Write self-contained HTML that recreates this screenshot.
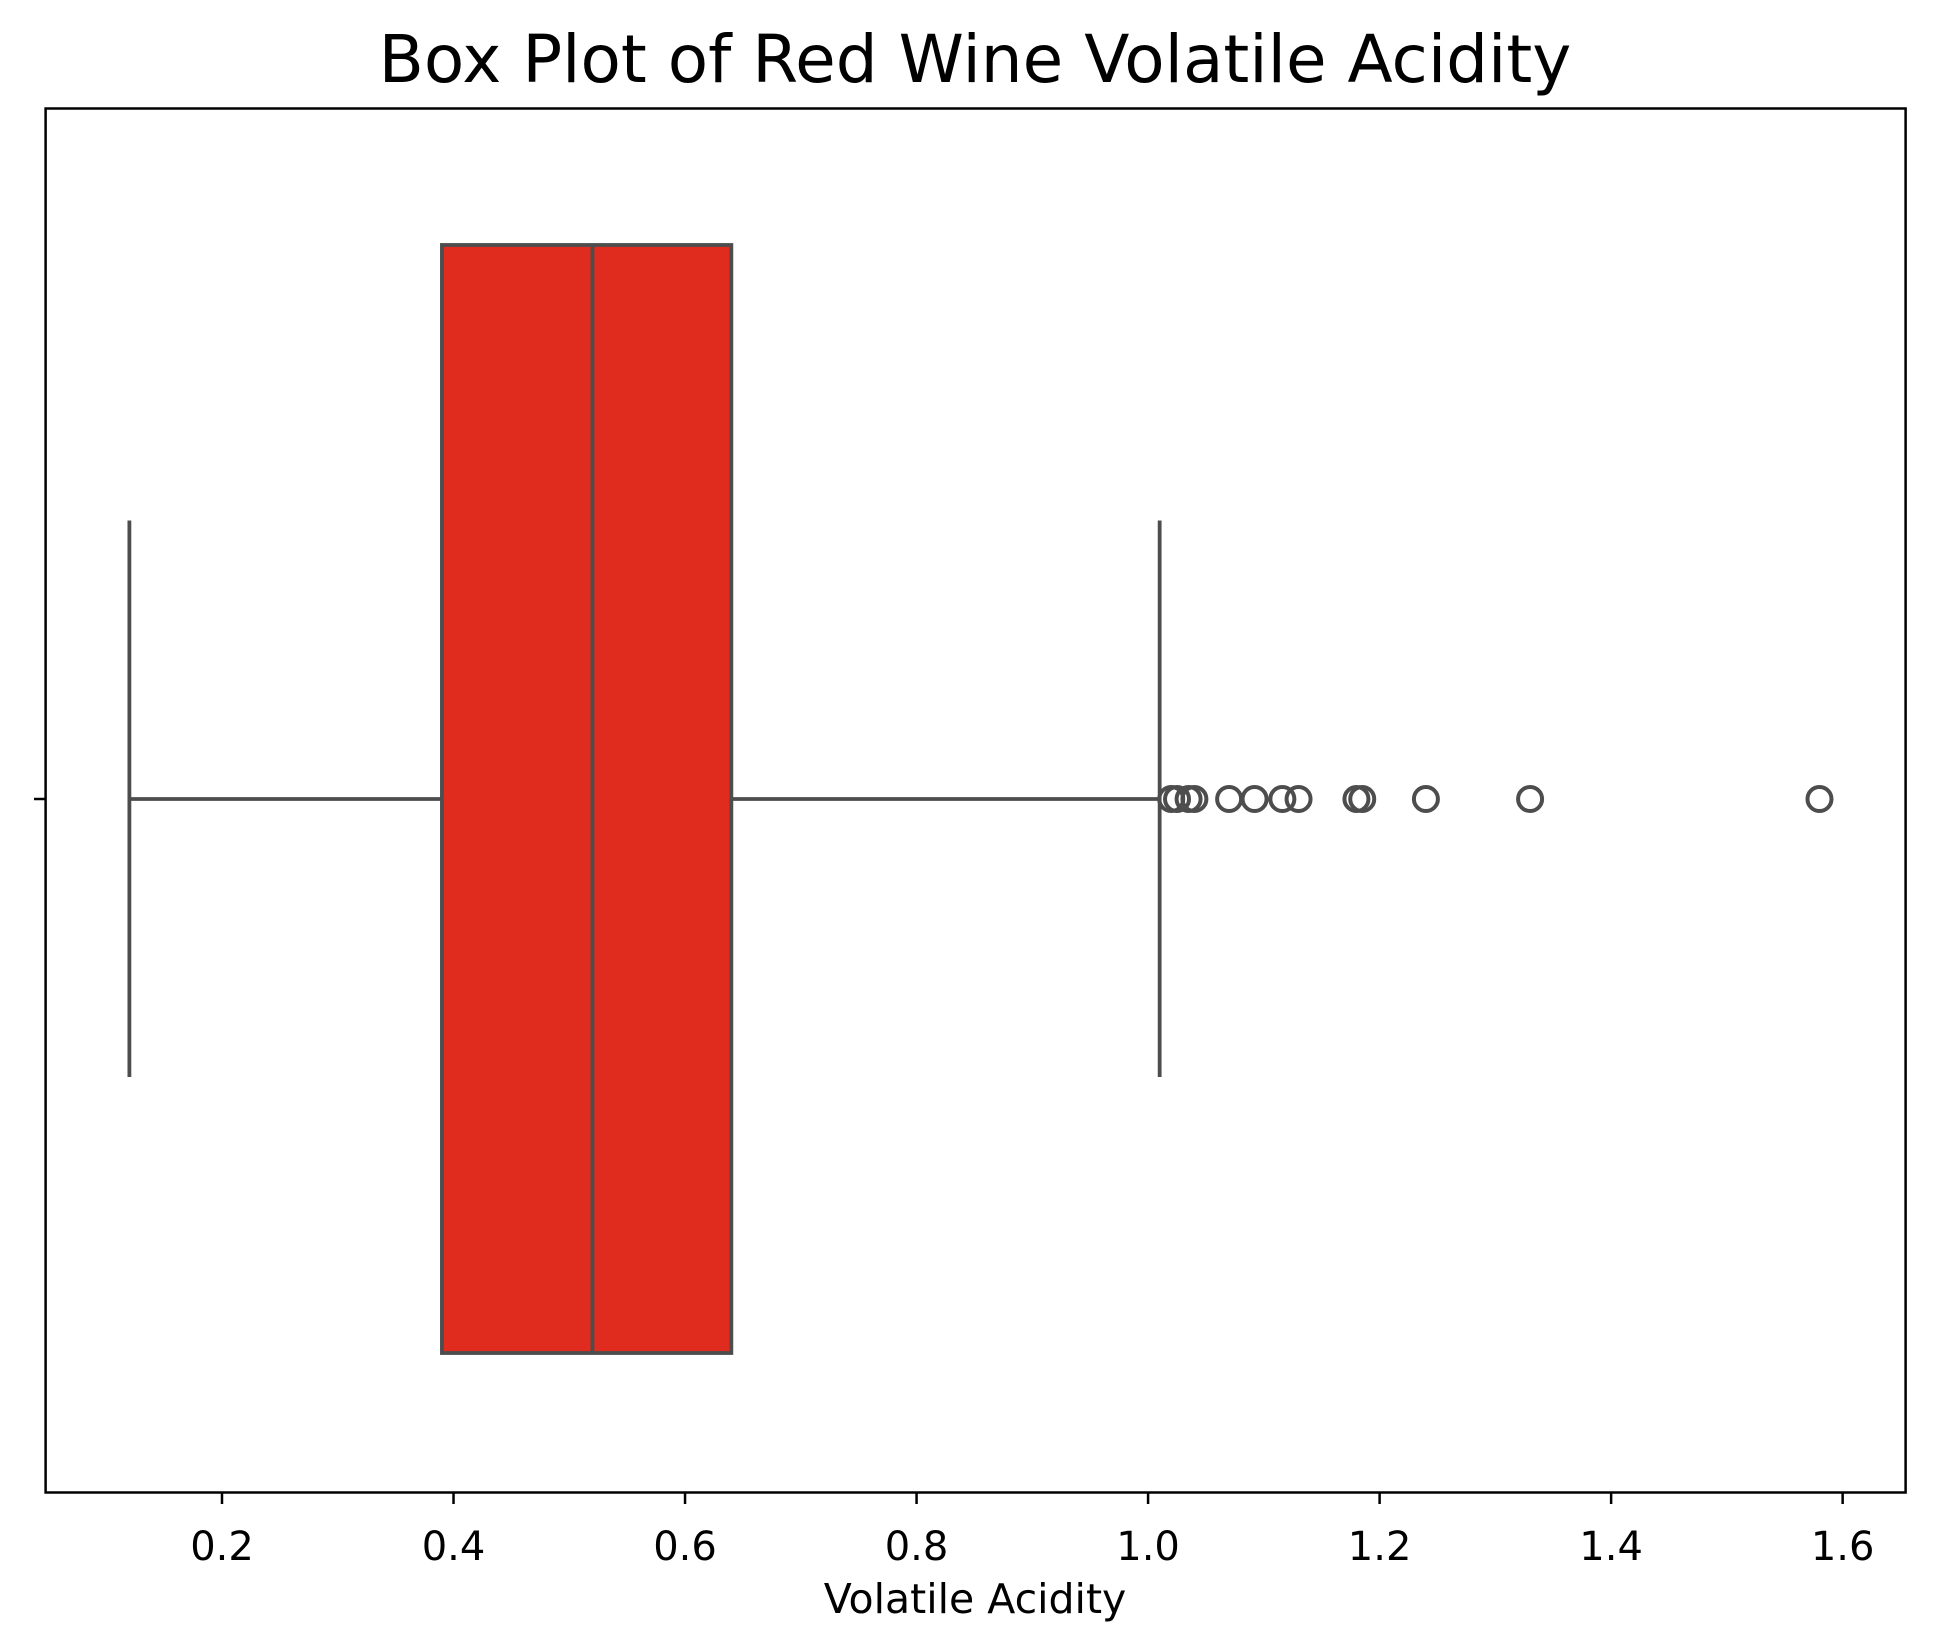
<!DOCTYPE html>
<html><head><meta charset="utf-8"><style>body{margin:0;background:#fff}svg{display:block;font-family:"DejaVu Sans","Liberation Sans",sans-serif}</style></head>
<body>
<svg id="chart" width="1934" height="1652" viewBox="0 0 1934 1652" xmlns="http://www.w3.org/2000/svg">
<text x="975" y="82" font-size="66" text-anchor="middle">Box Plot of Red Wine Volatile Acidity</text>
<rect x="45.6" y="108.5" width="1860" height="1384" fill="none" stroke="#000" stroke-width="2.5"/>
<g id="ticks"></g>
<g id="marks"></g>
<line x1="34" x2="45.6" y1="799" y2="799" stroke="#000" stroke-width="2.5"/>
<text x="975" y="1613" font-size="41" text-anchor="middle">Volatile Acidity</text>
</svg>
<script>
const xTicks = [0.2, 0.4, 0.6, 0.8, 1.0, 1.2, 1.4, 1.6];
const xTickLabels = ["0.2","0.4","0.6","0.8","1.0","1.2","1.4","1.6"];
const whiskerLow = 0.12;
const q1 = 0.39;
const median = 0.52;
const q3 = 0.64;
const whiskerHigh = 1.01;
const outliers = [1.02, 1.025, 1.035, 1.04, 1.07, 1.092, 1.116, 1.13, 1.18, 1.185, 1.24, 1.33, 1.58];

const NS = "http://www.w3.org/2000/svg";
function xs(v){ return 222 + (v - 0.2) * 1157.6; }
function mk(tag, attrs, parent){ const e = document.createElementNS(NS, tag); for (const k in attrs) e.setAttribute(k, attrs[k]); parent.appendChild(e); return e; }
const tg = document.getElementById('ticks');
xTicks.forEach((t,i)=>{
  const l = mk('line',{x1:xs(t),x2:xs(t),y1:1492.4,y2:1504,stroke:'#000','stroke-width':2.5},tg);
  
  
  const tx = mk('text',{x:xs(t),y:1560,'font-size':40,'text-anchor':'middle'},tg);
  tx.textContent = xTickLabels[i];
  
  
});
const g = document.getElementById('marks');
const cy = 799, boxTop = 245, boxBot = 1353, capT = 520.5, capB = 1077, col = '#4d4d4d', sw = 3.8;
let e;
e = mk('line',{x1:xs(whiskerLow),x2:xs(q1),y1:cy,y2:cy,stroke:col,'stroke-width':sw},g);


e = mk('line',{x1:xs(q3),x2:xs(whiskerHigh),y1:cy,y2:cy,stroke:col,'stroke-width':sw},g);


e = mk('line',{x1:xs(whiskerLow),x2:xs(whiskerLow),y1:capT,y2:capB,stroke:col,'stroke-width':sw},g);


e = mk('line',{x1:xs(whiskerHigh),x2:xs(whiskerHigh),y1:capT,y2:capB,stroke:col,'stroke-width':sw},g);


e = mk('rect',{x:xs(q1),y:boxTop,width:xs(q3)-xs(q1),height:boxBot-boxTop,fill:'#df2c1f',stroke:col,'stroke-width':sw},g);


e = mk('line',{x1:xs(median),x2:xs(median),y1:boxTop,y2:boxBot,stroke:col,'stroke-width':sw},g);


outliers.forEach(v=>{
  const c = mk('circle',{cx:xs(v),cy:cy,r:12,fill:'none',stroke:col,'stroke-width':4},g);
  
  
});
</script>
</body></html>
